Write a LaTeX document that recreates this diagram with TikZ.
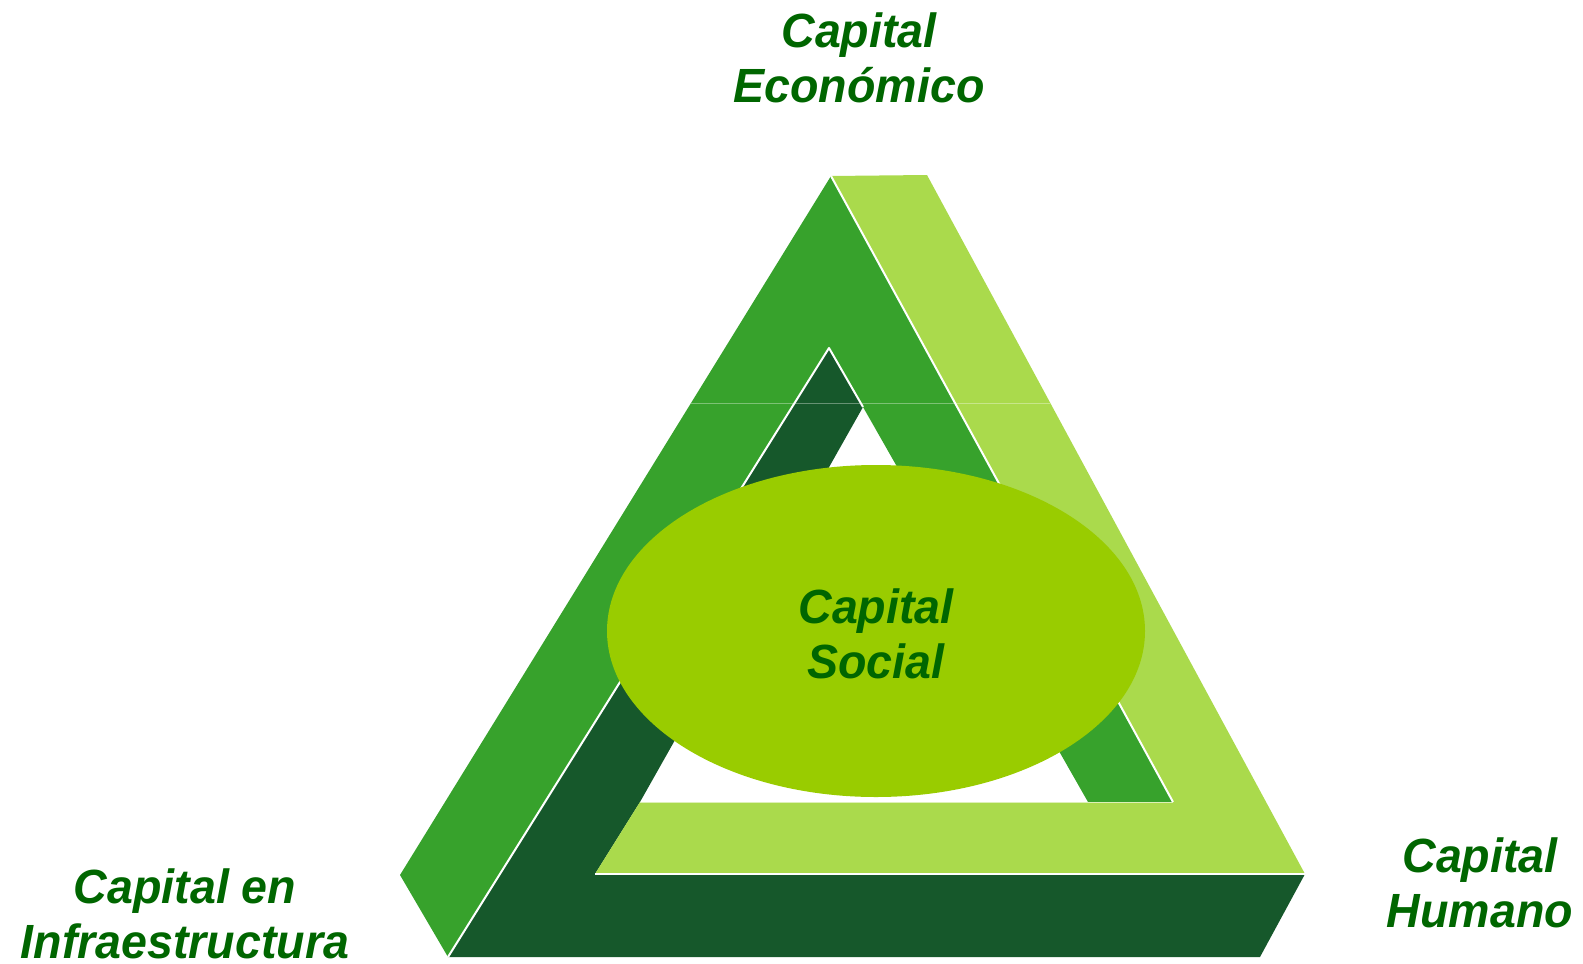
\documentclass[tikz,border=0pt]{standalone}
\usepackage{fontspec}
\setmainfont{Liberation Sans}[FakeStretch=0.97]
\definecolor{midgreen}{RGB}{55,162,44}
\definecolor{lightgreen}{RGB}{170,218,76}
\definecolor{darkgreen}{RGB}{22,88,43}
\definecolor{limegreen}{RGB}{153,204,0}
\definecolor{textgreen}{RGB}{0,102,0}
\begin{document}
\begin{tikzpicture}[x=1pt,y=-1pt]

    \tikzset{
      seam/.style={
        white,
        line width=2pt,
        line join=round,
      },
      label/.style={
        text=textgreen,
        font=\fontsize{48}{55}\selectfont\bfseries\itshape,
        align=center,
        inner sep=0pt,
      },
    }
    \useasboundingbox (0,0) rectangle (1583,964);
    % corners of the impossible triangle
    \coordinate (apex) at (831,176);
    \coordinate (toplight) at (927,175);
    \coordinate (leftpt) at (400,875);
    \coordinate (botleft) at (448,957);
    \coordinate (inapex) at (829,348);
    \coordinate (holetop) at (863,407);
    \coordinate (holeright) at (1088,802);
    \coordinate (seamend) at (1173,802);
    \coordinate (rightpt) at (1305,874);
    \coordinate (barleft) at (595,874);
    \coordinate (bartop) at (640,802);
    \coordinate (botright) at (1260,957);

	\fill[darkgreen] (inapex)--(holetop)--(bartop)--(barleft)--(rightpt)--(botright)--(botleft)--cycle;
	\fill[midgreen] (apex)--(leftpt)--(botleft)--(inapex)--(holetop)--(holeright)--(seamend)--cycle;
	\fill[lightgreen] (apex)--(toplight)--(rightpt)--(barleft)--(bartop)--(seamend)--cycle;
	\draw[seam] (apex)--(seamend);
	\draw[seam] (botleft)--(inapex)--(holetop);
	\draw[seam,line width=1.5pt] (barleft)--(rightpt);
	\draw[seam,line width=1pt,white!60!lightgreen] (bartop)--(seamend);
	\draw[white,opacity=0.35,line width=0.8pt] (691,403)--(1050,403);

	\fill[limegreen] (876,631) ellipse[x radius=269,y radius=166];

	\node[label] (social) at (876,634) {Capital\\Social};
	\node[label] (economico) at (859,58) {Capital\\Económico};
	\node[label] (infra) at (185,914) {Capital en\\Infraestructura};
	\node[label] (humano) at (1480,883) {Capital\\Humano};

\end{tikzpicture}
\end{document}
